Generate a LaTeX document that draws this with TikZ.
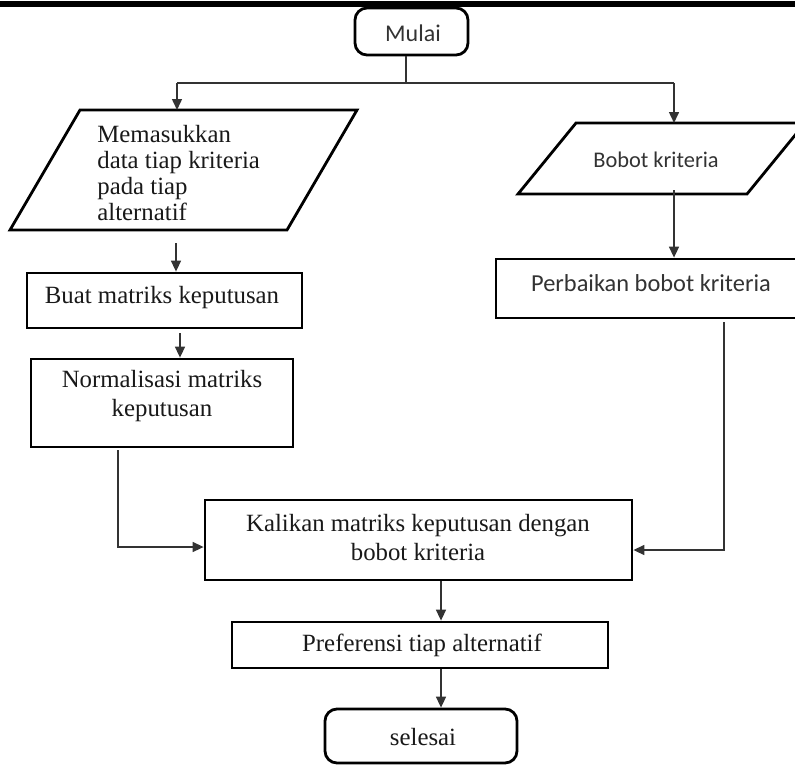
\documentclass[tikz,border=0pt]{standalone}
\usepackage{fontspec}
\setmainfont{Liberation Serif}
\newfontfamily\sansfnt{Carlito}
\usetikzlibrary{arrows.meta}
\begin{document}
\begin{tikzpicture}[x=0.5pt,y=-0.5pt,
  boxst/.style={draw=black,line width=1.4pt,line join=miter,inner sep=0pt,fill=white},
  roundst/.style={boxst,rounded corners=6pt},
  txtst/.style={inner sep=0pt,align=center,font=\fontsize{12.4pt}{14.5pt}\selectfont,text=black!90},
  sanst/.style={inner sep=0pt,align=center,text=black!80},
  conn/.style={draw=black!80,line width=0.75pt},
  connarrow/.style={conn,-{Triangle[length=5.5pt,width=5pt]}}
]
\useasboundingbox (0,0) rectangle (795,765);
\clip (0,0) rectangle (795,765);
% top bar
\fill[black] (0,1) rectangle (795,7);

% start
\node[roundst,minimum width=56.5pt,minimum height=23.5pt] (mulai) at (411.5,31.5) {};
\node[sanst,font=\sansfnt\fontsize{12pt}{14pt}\selectfont] (mulait) at (413,33) {Mulai};

% left input parallelogram
\coordinate (pl1) at (80,110);
\coordinate (pl2) at (357,110);
\coordinate (pl3) at (287,230);
\coordinate (pl4) at (10,230);
\draw[line width=1.4pt,line join=miter] (pl1) -- (pl2) -- (pl3) -- (pl4) -- cycle;
\node[txtst,align=left,anchor=west,font=\fontsize{12.4pt}{12.9pt}\selectfont] (plt) at (97,173)
  {Memasukkan\\data tiap kriteria\\pada tiap\\alternatif};

% right input parallelogram
\coordinate (pr1) at (576,123);
\coordinate (pr2) at (805,123);
\coordinate (pr3) at (747,194);
\coordinate (pr4) at (518,194);
\draw[line width=1.4pt,line join=miter] (pr1) -- (pr2) -- (pr3) -- (pr4) -- cycle;
\node[sanst,font=\sansfnt\fontsize{11.2pt}{13pt}\selectfont] (prt) at (656,160) {Bobot kriteria};

% boxes
\node[boxst,minimum width=137.5pt,minimum height=27.5pt] (buat) at (164.5,300.5) {};
\node[txtst] (buatt) at (162,298) {Buat matriks keputusan};

\node[boxst,minimum width=131pt,minimum height=44pt] (norm) at (162,403) {};
\node[txtst] (normt) at (162,396) {Normalisasi matriks\\keputusan};

\node[boxst,minimum width=154.5pt,minimum height=29.5pt] (perb) at (650.5,288.5) {};
\node[sanst,font=\sansfnt\fontsize{12.2pt}{14pt}\selectfont] (perbt) at (651,283) {Perbaikan bobot kriteria};

\node[boxst,minimum width=213.5pt,minimum height=40pt] (kal) at (418.5,540) {};
\node[txtst] (kalt) at (418,537.5) {Kalikan matriks keputusan dengan\\bobot kriteria};

\node[boxst,minimum width=188pt,minimum height=23pt] (pref) at (420,645) {};
\node[txtst] (preft) at (422,645) {Preferensi tiap alternatif};

\node[roundst,minimum width=96pt,minimum height=27pt] (sel) at (421,736) {};
\node[txtst] (selt) at (423,737) {selesai};

% connectors
\coordinate (jm) at (406,83);
\coordinate (jl) at (177,83);
\coordinate (jr) at (674,83);
\draw[conn] (jm |- mulai.south) -- (jm);
\draw[conn] (jl) -- (jr);
\draw[connarrow] (jl) -- (jl |- pl1);
\draw[connarrow] (jr) -- (jr |- pr1);

\coordinate (a1) at (176,243);
\draw[connarrow] (a1) -- (a1 |- buat.north);
\coordinate (a2) at (180,333);
\draw[connarrow] (a2) -- (a2 |- norm.north);

\coordinate (a3) at (674,190);
\draw[connarrow] (a3) -- (a3 |- perb.north);

\coordinate (n1) at (118,450);
\coordinate (n2) at (118,547);
\draw[connarrow] (n1) -- (n2) -- (n2 -| kal.west);

\coordinate (r1) at (724,322);
\coordinate (r2) at (724,550);
\draw[connarrow] (r1) -- (r2) -- (r2 -| kal.east);

\coordinate (k1) at (441,580);
\draw[connarrow] (k1 |- kal.south) -- (k1 |- pref.north);
\draw[connarrow] (k1 |- pref.south) -- (k1 |- sel.north);
\end{tikzpicture}
\end{document}
